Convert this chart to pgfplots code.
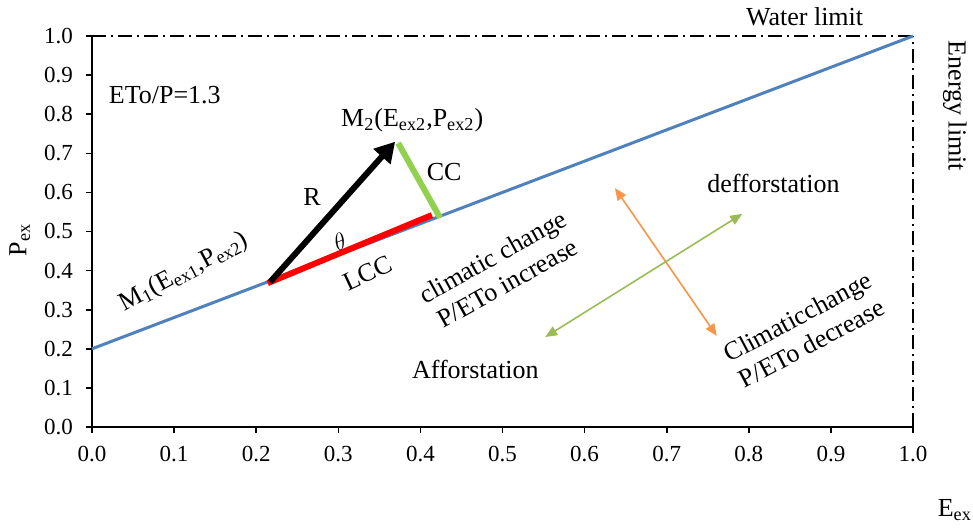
\documentclass[border=0pt]{standalone}
\usepackage{fontspec}
\setmainfont{Liberation Serif}
\usepackage{pgfplots}
\pgfplotsset{compat=1.18}
\usetikzlibrary{arrows.meta}
\definecolor{lblue}{RGB}{79,129,189}
\definecolor{lgreen}{RGB}{146,208,80}
\definecolor{olive}{RGB}{155,187,89}
\definecolor{orng}{RGB}{247,150,70}
\begin{document}
\begin{tikzpicture}
\useasboundingbox (-46pt,-52pt) rectangle (440.5pt,213.5pt);
\begin{axis}[
  at={(0,0)}, anchor=origin,
  scale only axis, width=410.5pt, height=195.5pt,
  xmin=0, xmax=1, ymin=0, ymax=1,
  clip=false,
  axis x line*=bottom, axis y line*=left,
  axis line style={line width=1pt},
  tick align=outside, major tick length=3pt,
  tick style={black, line width=0.8pt},
  xtick={0,0.1,0.2,0.3,0.4,0.5,0.6,0.7,0.8,0.9,1},
  ytick={0,0.1,0.2,0.3,0.4,0.5,0.6,0.7,0.8,0.9,1},
  /pgf/number format/.cd, fixed, fixed zerofill, precision=1, assume math mode=true,
  /pgfplots/.cd,
  ticklabel style={font=\fontsize{11.5}{13}\selectfont},
  xticklabel style={yshift=-3pt},
  yticklabel style={xshift=-3pt},
]
% limits
\addplot[black, line width=1pt, dash pattern=on 7pt off 2.5pt on 1pt off 2.5pt] coordinates {(0,1) (1,1)};
\addplot[black, line width=1pt, dash pattern=on 7pt off 2.5pt on 1pt off 2.5pt] coordinates {(1,0) (1,1)};
% budyko line
\addplot[lblue, line width=1.5pt] coordinates {(0,0.2) (1,1)};
% vectors
\addplot[red, line width=3pt] coordinates {(0.214,0.368) (0.414,0.542)};
\addplot[lgreen, line width=3pt] coordinates {(0.373,0.726) (0.424,0.535)};
\addplot[black, line width=3pt, -{Triangle[length=10pt,width=11pt]}, shorten >=-2pt] coordinates {(0.217,0.371) (0.366,0.722)};
% change arrows
\addplot[orng, line width=0.8pt, {Triangle[length=6pt,width=5pt]}-{Triangle[length=6pt,width=5pt]}] coordinates {(0.637,0.611) (0.761,0.233)};
\addplot[olive, line width=0.8pt, {Triangle[length=6pt,width=5pt]}-{Triangle[length=6pt,width=5pt]}] coordinates {(0.552,0.230) (0.792,0.545)};
% texts
\begin{scope}[every node/.style={font=\fontsize{13}{15}\selectfont}]
\node[anchor=west] at (axis cs:0.012,0.849) {ETo/P=1.3};
\node at (axis cs:0.39,0.785) {M\textsubscript{2}(E\textsubscript{ex2},P\textsubscript{ex2})};
\node at (axis cs:0.268,0.588) {R};
\node at (axis cs:0.429,0.652) {CC};
\node[rotate=22] at (axis cs:0.302,0.473) {$\theta$};
\node[rotate=25] at (axis cs:0.336,0.394) {LCC};
\node[rotate=28] at (axis cs:0.112,0.396) {M\textsubscript{1}(E\textsubscript{ex1},P\textsubscript{ex2})};
\node[rotate=29, align=center, inner sep=0pt] at (axis cs:0.497,0.402) {climatic change\\P/ETo increase};
\node at (axis cs:0.83,0.624) {defforstation};
\node at (axis cs:0.467,0.148) {Afforstation};
\node[rotate=28, align=center, inner sep=0pt] at (axis cs:0.868,0.248) {Climaticchange\\P/ETo decrease};
\node at (axis cs:0.868,1.049) {Water limit};
\node[rotate=-90] at (axis cs:1.051,0.821) {Energy limit};
\node at (axis cs:1.051,-0.212) {E\textsubscript{ex}};
\node[rotate=90] at (axis cs:-0.088,0.478) {P\textsubscript{ex}};
\end{scope}
\end{axis}
\end{tikzpicture}
\end{document}
